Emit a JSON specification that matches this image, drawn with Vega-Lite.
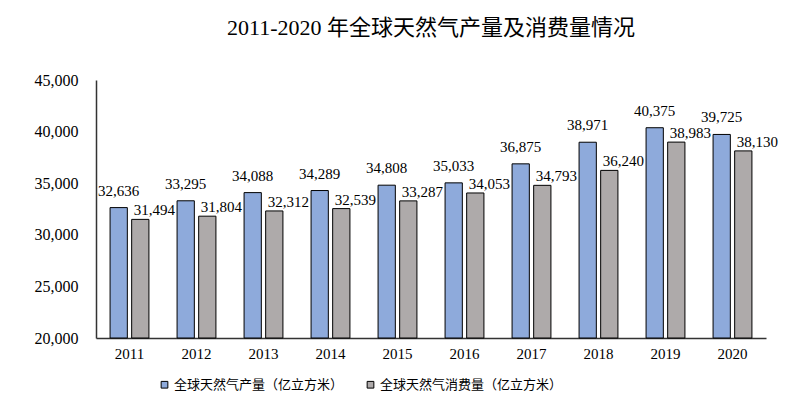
{
  "$schema": "https://vega.github.io/schema/vega-lite/v6.json",
  "autosize": {"type": "none"},
  "width": 670,
  "height": 258,
  "padding": {"left": 96, "top": 80, "right": 34, "bottom": 69},
  "background": "white",
  "title": {
    "text": "2011-2020 年全球天然气产量及消费量情况",
    "font": "Liberation Serif, Noto Sans CJK SC",
    "fontSize": 22,
    "fontWeight": "normal",
    "color": "black",
    "anchor": "middle",
    "offset": 32
  },
  "config": {
    "view": {"stroke": null},
    "font": "Liberation Serif, Noto Sans CJK SC"
  },
  "data": {
    "values": [
      {"year": "2011", "series": "全球天然气产量（亿立方米）", "value": 32636},
      {"year": "2011", "series": "全球天然气消费量（亿立方米）", "value": 31494},
      {"year": "2012", "series": "全球天然气产量（亿立方米）", "value": 33295},
      {"year": "2012", "series": "全球天然气消费量（亿立方米）", "value": 31804},
      {"year": "2013", "series": "全球天然气产量（亿立方米）", "value": 34088},
      {"year": "2013", "series": "全球天然气消费量（亿立方米）", "value": 32312},
      {"year": "2014", "series": "全球天然气产量（亿立方米）", "value": 34289},
      {"year": "2014", "series": "全球天然气消费量（亿立方米）", "value": 32539},
      {"year": "2015", "series": "全球天然气产量（亿立方米）", "value": 34808},
      {"year": "2015", "series": "全球天然气消费量（亿立方米）", "value": 33287},
      {"year": "2016", "series": "全球天然气产量（亿立方米）", "value": 35033},
      {"year": "2016", "series": "全球天然气消费量（亿立方米）", "value": 34053},
      {"year": "2017", "series": "全球天然气产量（亿立方米）", "value": 36875},
      {"year": "2017", "series": "全球天然气消费量（亿立方米）", "value": 34793},
      {"year": "2018", "series": "全球天然气产量（亿立方米）", "value": 38971},
      {"year": "2018", "series": "全球天然气消费量（亿立方米）", "value": 36240},
      {"year": "2019", "series": "全球天然气产量（亿立方米）", "value": 40375},
      {"year": "2019", "series": "全球天然气消费量（亿立方米）", "value": 38983},
      {"year": "2020", "series": "全球天然气产量（亿立方米）", "value": 39725},
      {"year": "2020", "series": "全球天然气消费量（亿立方米）", "value": 38130}
    ]
  },
  "encoding": {
    "x": {
      "field": "year",
      "type": "nominal",
      "scale": {"paddingInner": 0.42, "paddingOuter": 0.21},
      "axis": {
        "title": null,
        "labelAngle": 0,
        "labelFontSize": 15,
        "labelColor": "black",
        "labelPadding": 8,
        "ticks": false,
        "domainColor": "#333333",
        "domainWidth": 1.5
      }
    },
    "xOffset": {
      "field": "series",
      "type": "nominal",
      "sort": ["全球天然气产量（亿立方米）", "全球天然气消费量（亿立方米）"],
      "scale": {"paddingInner": 0.2}
    },
    "y": {
      "field": "value",
      "type": "quantitative",
      "scale": {"domain": [20000, 45000], "zero": false},
      "axis": {
        "title": null,
        "values": [20000, 25000, 30000, 35000, 40000, 45000],
        "format": ",.0f",
        "grid": false,
        "ticks": false,
        "labelFontSize": 16,
        "labelColor": "black",
        "labelPadding": 18,
        "domainColor": "#333333",
        "domainWidth": 1.5
      }
    }
  },
  "layer": [
    {
      "mark": {"type": "bar", "stroke": "black", "strokeWidth": 1},
      "encoding": {
        "y2": {"datum": 20000},
        "color": {
          "field": "series",
          "type": "nominal",
          "sort": ["全球天然气产量（亿立方米）", "全球天然气消费量（亿立方米）"],
          "scale": {"range": ["#8eaadb", "#aeaaaa"]},
          "legend": {
            "title": null,
            "orient": "none",
            "direction": "horizontal",
            "legendX": 62,
            "legendY": 298,
            "symbolType": "square",
            "symbolSize": 45,
            "symbolStrokeColor": "black",
            "symbolStrokeWidth": 1,
            "labelFontSize": 13,
            "labelColor": "black",
            "labelOffset": 3,
            "columnPadding": 20,
            "labelLimit": 300
          }
        }
      }
    },
    {
      "transform": [{"filter": "datum.series == '全球天然气产量（亿立方米）'"}],
      "mark": {"type": "text", "dy": -9, "baseline": "bottom", "fontSize": 15, "color": "black"},
      "encoding": {"text": {"field": "value", "type": "quantitative", "format": ","}}
    },
    {
      "transform": [{"filter": "datum.series == '全球天然气消费量（亿立方米）'"}],
      "mark": {"type": "text", "dy": -1, "dx": 14, "baseline": "bottom", "fontSize": 15, "color": "black"},
      "encoding": {"text": {"field": "value", "type": "quantitative", "format": ","}}
    }
  ]
}
